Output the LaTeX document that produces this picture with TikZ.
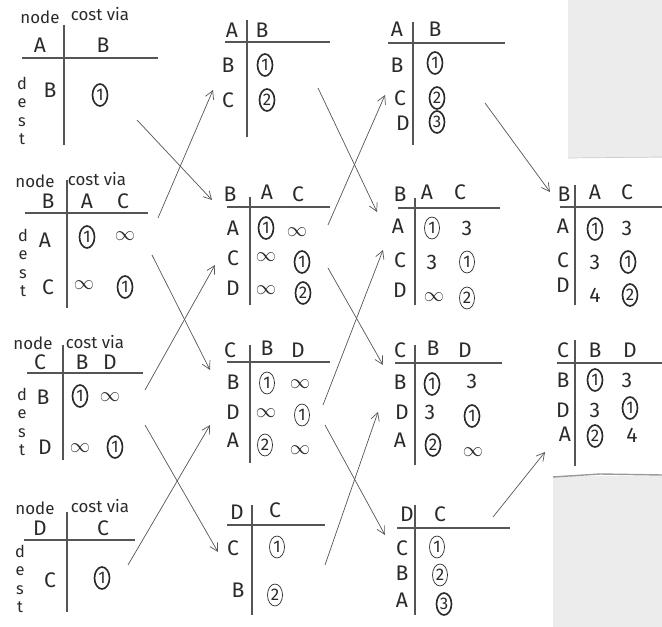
\documentclass[tikz,border=0pt]{standalone}
\usepackage{fontspec}
\setsansfont{Fira Sans}
\usepackage{tikz}
\usetikzlibrary{arrows.meta,shapes.geometric}
\definecolor{pencil}{HTML}{2A2A2A}
\definecolor{lead}  {HTML}{555555}
\definecolor{paper} {HTML}{ECECEC}
\definecolor{edge}  {HTML}{9A9A9A}
\tikzset{
  lbl/.style   = {font=\sffamily\Large, text=pencil},
  hd/.style    = {font=\sffamily\fontsize{18}{21}\selectfont, text=pencil},
  ent/.style   = {font=\sffamily\fontsize{18}{21}\selectfont, text=pencil},
  dest/.style  = {font=\sffamily\fontsize{14}{15.5}\selectfont, text=pencil, align=center},
  circ/.style  = {ellipse, draw=pencil, line width=1.4pt, inner sep=0pt,
                  minimum width=4.5mm, minimum height=6.6mm,
                  font=\sffamily\Large, text=pencil},
  circl/.style = {circ, line width=0.6pt},
  rule/.style  = {draw=lead, line width=1pt},
  flow/.style  = {-{Straight Barb[length=2.4mm,width=2.6mm]}, draw=lead, line width=0.6pt},
}

\begin{document}
\begin{tikzpicture}[x=0.3mm, y=-0.3mm]
  \useasboundingbox (0,0) rectangle (662,627);

  % paper edges
  \fill[paper] (568,0) rectangle (662,158);
  \draw[edge!50, line width=0.6pt] (568,158) -- (662,157);
  \fill[paper] (553,476) rectangle (662,627);
  \draw[edge, line width=1.2pt] (553,477) -- (600,474) -- (662,475);

  % column 1, node A
  \node[lbl] (a0node) at (40,17) {node};
  \node[lbl] (a0cost) at (100,14) {cost via};
  \node[hd] (a0own) at (40,45) {A};
  \node[hd] (a0vB) at (103,45) {B};
  \draw[rule] (22,58) -- (158,58);
  \draw[rule] (64,25) -- (64,145);
  \node[dest] (a0dest) at (22,111) {d\\e\\s\\t};
  \node[ent] (a0rB) at (50,90) {B};
  \node[circ] (a0BB) at (100,95) {1};

  % column 1, node B
  \node[lbl] (b0node) at (35,181) {node};
  \node[lbl] (b0cost) at (97,179) {cost via};
  \node[hd] (b0own) at (48,201) {B};
  \node[hd] (b0vA) at (87,201) {A};
  \node[hd] (b0vC) at (123,201) {C};
  \draw[rule] (25,213) -- (148,213);
  \draw[rule] (67,180) -- (67,308);
  \node[dest] (b0dest) at (23,263) {d\\e\\s\\t};
  \node[ent] (b0rA) at (45,240) {A};
  \node[circ] (b0AA) at (87,237) {1};
  \node[ent] (b0AC) at (125,236) {$\infty$};
  \node[ent] (b0rC) at (48,287) {C};
  \node[ent] (b0CA) at (84,285) {$\infty$};
  \node[circ] (b0CC) at (125,287) {1};

  % column 1, node C
  \node[lbl] (c0node) at (33,343) {node};
  \node[lbl] (c0cost) at (95,342) {cost via};
  \node[hd] (c0own) at (40,362) {C};
  \node[hd] (c0vB) at (82,362) {B};
  \node[hd] (c0vD) at (110,362) {D};
  \draw[rule] (27,373) -- (143,373);
  \draw[rule] (63,345) -- (63,460);
  \node[dest] (c0dest) at (22,422) {d\\e\\s\\t};
  \node[ent] (c0rB) at (43,397) {B};
  \node[circ] (c0BB) at (80,396) {1};
  \node[ent] (c0BD) at (110,397) {$\infty$};
  \node[ent] (c0rD) at (45,447) {D};
  \node[ent] (c0DB) at (80,448) {$\infty$};
  \node[circ] (c0DD) at (115,447) {1};

  % column 1, node D
  \node[lbl] (d0node) at (35,508) {node};
  \node[lbl] (d0cost) at (100,506) {cost via};
  \node[hd] (d0own) at (40,528) {D};
  \node[hd] (d0vC) at (103,528) {C};
  \draw[rule] (24,540) -- (135,540);
  \draw[rule] (67,512) -- (67,612);
  \node[dest] (d0dest) at (20,579) {d\\e\\s\\t};
  \node[ent] (d0rC) at (50,580) {C};
  \node[circ] (d0CC) at (102,578) {1};

  % column 2
  \node[hd] (a1own) at (232,30) {A};
  \node[hd] (a1vB) at (262,30) {B};
  \draw[rule] (225,42) -- (330,42);
  \draw[rule] (247,20) -- (247,137);
  \node[ent] (a1rB) at (228,65) {B};
  \node[circ] (a1BB) at (265,65) {1};
  \node[ent] (a1rC) at (228,100) {C};
  \node[circ] (a1CB) at (267,100) {2};

  \node[hd] (b1own) at (230,194) {B};
  \node[hd] (b1vA) at (267,192) {A};
  \node[hd] (b1vC) at (298,194) {C};
  \draw[rule] (227,207) -- (330,207);
  \draw[rule] (250,197) -- (250,305);
  \node[ent] (b1rA) at (233,228) {A};
  \node[circ] (b1AA) at (266,228) {1};
  \node[ent] (b1AC) at (297,232) {$\infty$};
  \node[ent] (b1rC) at (233,258) {C};
  \node[ent] (b1CA) at (266,257) {$\infty$};
  \node[circ] (b1CC) at (302,262) {1};
  \node[ent] (b1rD) at (233,288) {D};
  \node[ent] (b1DA) at (266,290) {$\infty$};
  \node[circ] (b1DC) at (303,293) {2};

  \node[hd] (c1own) at (230,350) {C};
  \node[hd] (c1vB) at (267,348) {B};
  \node[hd] (c1vD) at (298,350) {D};
  \draw[rule] (227,362) -- (330,362);
  \draw[rule] (250,345) -- (250,463);
  \node[ent] (c1rB) at (233,382) {B};
  \node[circl] (c1BB) at (267,383) {1};
  \node[ent] (c1BD) at (300,384) {$\infty$};
  \node[ent] (c1rD) at (233,412) {D};
  \node[ent] (c1DB) at (266,413) {$\infty$};
  \node[circl] (c1DD) at (302,415) {1};
  \node[ent] (c1rA) at (233,440) {A};
  \node[circl] (c1AB) at (265,445) {2};
  \node[ent] (c1AD) at (300,450) {$\infty$};

  \node[hd] (d1own) at (237,512) {D};
  \node[hd] (d1vC) at (275,510) {C};
  \draw[rule] (227,525) -- (325,525);
  \draw[rule] (252,505) -- (252,615);
  \node[ent] (d1rC) at (233,548) {C};
  \node[circl] (d1CC) at (277,547) {1};
  \node[ent] (d1rB) at (238,590) {B};
  \node[circl] (d1BC) at (275,595) {2};

  % column 3
  \node[hd] (a2own) at (397,29) {A};
  \node[hd] (a2vB) at (435,29) {B};
  \draw[rule] (388,43) -- (505,43);
  \draw[rule] (413,22) -- (413,145);
  \node[ent] (a2rB) at (397,65) {B};
  \node[circ] (a2BB) at (435,63) {1};
  \node[ent] (a2rC) at (400,98) {C};
  \node[circ] (a2CB) at (437,98) {2};
  \node[ent] (a2rD) at (403,123) {D};
  \node[circ] (a2DB) at (437,122) {3};

  \node[hd] (b2own) at (400,194) {B};
  \node[hd] (b2vA) at (427,192) {A};
  \node[hd] (b2vC) at (460,192) {C};
  \draw[rule] (398,208) -- (500,208);
  \draw[rule] (415,198) -- (415,305);
  \node[ent] (b2rA) at (398,226) {A};
  \node[circl] (b2AA) at (432,228) {1};
  \node[ent] (b2AC) at (467,228) {3};
  \node[ent] (b2rC) at (400,260) {C};
  \node[ent] (b2CA) at (432,262) {3};
  \node[circl] (b2CC) at (467,262) {1};
  \node[ent] (b2rD) at (400,290) {D};
  \node[ent] (b2DA) at (434,297) {$\infty$};
  \node[circl] (b2DC) at (467,298) {2};

  \node[hd] (c2own) at (400,350) {C};
  \node[hd] (c2vB) at (433,348) {B};
  \node[hd] (c2vD) at (465,350) {D};
  \draw[rule] (395,363) -- (502,363);
  \draw[rule] (415,345) -- (415,465);
  \node[ent] (c2rB) at (400,382) {B};
  \node[circ] (c2BB) at (432,384) {1};
  \node[ent] (c2BD) at (472,381) {3};
  \node[ent] (c2rD) at (402,412) {D};
  \node[ent] (c2DB) at (430,412) {3};
  \node[circ] (c2DD) at (472,416) {1};
  \node[ent] (c2rA) at (400,440) {A};
  \node[circ] (c2AB) at (433,445) {2};
  \node[ent] (c2AD) at (473,452) {$\infty$};

  \node[hd] (d2own) at (407,514) {D};
  \node[hd] (d2vC) at (440,514) {C};
  \draw[rule] (397,528) -- (510,528);
  \draw[rule] (415,505) -- (415,615);
  \node[ent] (d2rC) at (402,548) {C};
  \node[circl] (d2CC) at (437,547) {1};
  \node[ent] (d2rB) at (402,573) {B};
  \node[circl] (d2BC) at (440,575) {2};
  \node[ent] (d2rA) at (402,600) {A};
  \node[circ] (d2AC) at (444,604) {3};

  % column 4
  \node[hd] (b3own) at (564,194) {B};
  \node[hd] (b3vA) at (595,192) {A};
  \node[hd] (b3vC) at (627,192) {C};
  \draw[rule] (560,207) -- (662,207);
  \draw[rule] (575,185) -- (575,305);
  \node[ent] (b3rA) at (563,226) {A};
  \node[circ] (b3AA) at (595,229) {1};
  \node[ent] (b3AC) at (627,228) {3};
  \node[ent] (b3rC) at (563,260) {C};
  \node[ent] (b3CA) at (595,262) {3};
  \node[circ] (b3CC) at (628,262) {1};
  \node[ent] (b3rD) at (563,285) {D};
  \node[ent] (b3DA) at (595,295) {4};
  \node[circ] (b3DC) at (630,295) {2};

  \node[hd] (c3own) at (563,350) {C};
  \node[hd] (c3vB) at (595,350) {B};
  \node[hd] (c3vD) at (630,350) {D};
  \draw[rule] (557,363) -- (662,363);
  \draw[rule] (575,340) -- (575,466);
  \node[ent] (c3rB) at (563,380) {B};
  \node[circ] (c3BB) at (595,380) {1};
  \node[ent] (c3BD) at (627,380) {3};
  \node[ent] (c3rD) at (563,410) {D};
  \node[ent] (c3DB) at (595,410) {3};
  \node[circ] (c3DD) at (630,408) {1};
  \node[ent] (c3rA) at (565,434) {A};
  \node[circ] (c3AB) at (595,436) {2};
  \node[ent] (c3AD) at (632,435) {4};

  % arrow ends
  \coordinate (s1) at (158,218);  \coordinate (e1) at (213,90);
  \coordinate (s2) at (137,120);  \coordinate (e2) at (212,200);
  \coordinate (s3) at (145,390);  \coordinate (e3) at (215,265);
  \coordinate (s4) at (152,255);  \coordinate (e4) at (210,370);
  \coordinate (s5) at (145,425);  \coordinate (e5) at (218,552);
  \coordinate (s6) at (128,565);  \coordinate (e6) at (210,425);
  \coordinate (s7) at (318,88);   \coordinate (e7) at (377,212);
  \coordinate (s8) at (328,225);  \coordinate (e8) at (385,95);
  \coordinate (s9) at (328,268);  \coordinate (e9) at (383,365);
  \coordinate (s10) at (323,405); \coordinate (e10) at (383,250);
  \coordinate (s11) at (325,425); \coordinate (e11) at (385,535);
  \coordinate (s12) at (325,565); \coordinate (e12) at (378,412);
  \coordinate (s13) at (485,103); \coordinate (e13) at (550,192);
  \coordinate (s14) at (493,517); \coordinate (e14) at (545,452);

  % arrows
  \foreach \i in {1,...,14}
    \draw[flow] (s\i) -- (e\i);
\end{tikzpicture}
\end{document}
